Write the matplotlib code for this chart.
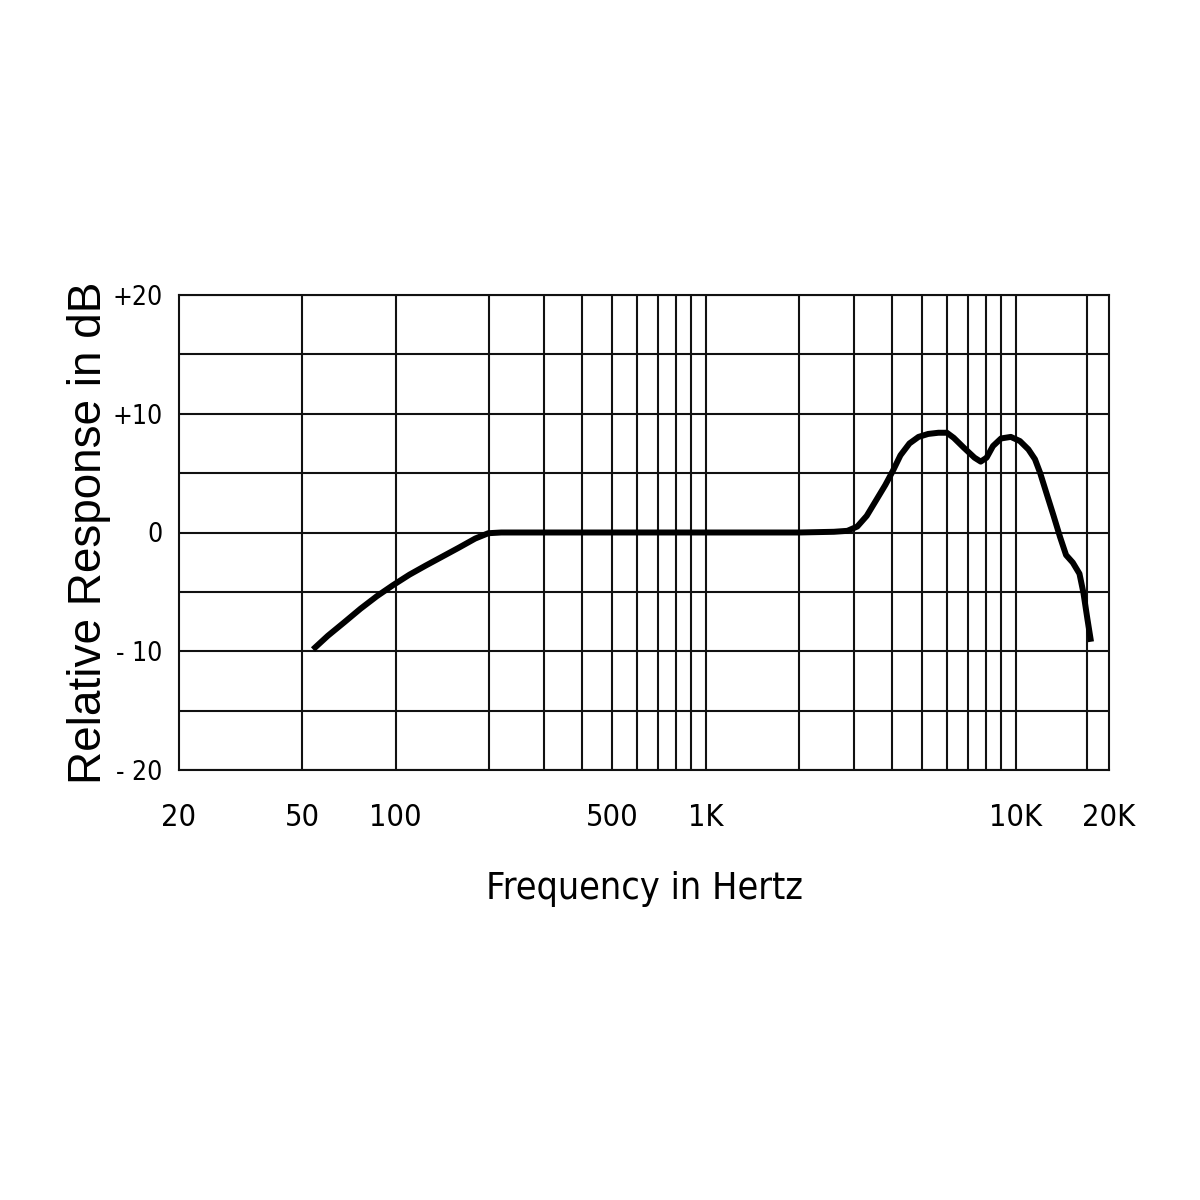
import matplotlib
matplotlib.use("Agg")
import matplotlib.pyplot as plt
from matplotlib import font_manager

# ---------- data ----------
freq_hz = [54.1, 60.4, 68.2, 77.0, 86.9, 98.1, 110.8, 125.1, 141.4, 159.8,
           180.5, 199, 219, 500, 1000, 2000, 2590, 2865, 3083, 3307,
           3544, 3797, 4018, 4249, 4543, 4859, 5222, 5634, 6000, 6314,
           6810, 7366, 7713, 8057, 8449, 8971, 9645, 10320, 10990, 11540,
           11980, 12590, 13240, 13900, 14540, 15280, 16060, 16540, 17040, 17500]
response_db = [-9.85, -8.7, -7.57, -6.42, -5.37, -4.43, -3.55, -2.78, -2.03, -1.28,
               -0.51, -0.06, 0.0, 0.0, 0.0, 0.0, 0.06, 0.14, 0.5, 1.4,
               2.7, 4.0, 5.2, 6.5, 7.5, 8.05, 8.3, 8.4, 8.4, 7.97,
               7.13, 6.3, 5.97, 6.3, 7.28, 7.92, 8.05, 7.7, 7.0, 6.17,
               5.05, 3.25, 1.44, -0.37, -1.9, -2.53, -3.47, -5.08, -7.3, -9.2]

grid_freqs = [50, 100, 200, 300, 400, 500, 600, 700, 800, 900, 1000,
              2000, 3000, 4000, 5000, 6000, 7000, 8000, 9000, 10000, 17000]
x_ticks = [20, 50, 100, 500, 1000, 10000, 20000]
x_tick_labels = ["20", "50", "100", "500", "1K", "10K", "20K"]
y_lines = [-20, -15, -10, -5, 0, 5, 10, 15, 20]
y_ticks = [20, 10, 0, -10, -20]
y_tick_labels = ["+20", "+10", "0", "- 10", "- 20"]

# look for a narrow / condensed sans font, otherwise plain Liberation Sans
narrow_file = None
for key in ["LiberationSansNarrow-Regular", "DejaVuSansCondensed.ttf", "Narrow", "Condensed"]:
    for f in font_manager.fontManager.ttflist:
        fn = f.fname.split("/")[-1]
        if key in fn and "Bold" not in fn and "Oblique" not in fn and "Italic" not in fn:
            narrow_file = f.fname
            break
    if narrow_file:
        break

def narrow_font(size):
    if narrow_file:
        return font_manager.FontProperties(fname=narrow_file, size=size)
    return font_manager.FontProperties(family="Liberation Sans", size=size)

fig = plt.figure(figsize=(12, 12), dpi=100)
ax = fig.add_axes([179 / 1200, 1 - 770 / 1200, 930 / 1200, 475 / 1200])

ax.plot(freq_hz, response_db, color="black", lw=4.3,
        solid_capstyle="butt", solid_joinstyle="round", zorder=3)

ax.set_xscale("log")
ax.set_xlim(20, 20000)
ax.set_ylim(-20, 20)

# grid lines
for f in grid_freqs:
    ax.axvline(f, color="#111111", lw=1.5, zorder=1)
for y in y_lines:
    ax.axhline(y, color="#111111", lw=1.5, zorder=1)

ax.xaxis.set_minor_locator(matplotlib.ticker.NullLocator())
ax.set_xticks(x_ticks)
ax.set_xticklabels(x_tick_labels)
ax.set_yticks(y_ticks)
ax.set_yticklabels(y_tick_labels)
for t in ax.get_xticklabels():
    t.set_fontproperties(narrow_font(22 if narrow_file else 20))
for t in ax.get_yticklabels():
    t.set_fontproperties(narrow_font(19 if narrow_file else 18))
ax.tick_params(axis="both", length=0)
ax.tick_params(axis="x", pad=24)
ax.tick_params(axis="y", pad=12)

for s in ax.spines.values():
    s.set_linewidth(1.5)
    s.set_color("#111111")

ax.set_xlabel("Frequency in Hertz", fontproperties=narrow_font(27 if narrow_file else 24), va="top")
ax.xaxis.set_label_coords(0.5, -0.212)
ax.set_ylabel("Relative Response in dB", fontfamily="Liberation Sans", fontsize=33)
ax.yaxis.set_label_coords(-0.073, 0.5)

fig.savefig("out.png", dpi=100, facecolor="white")
